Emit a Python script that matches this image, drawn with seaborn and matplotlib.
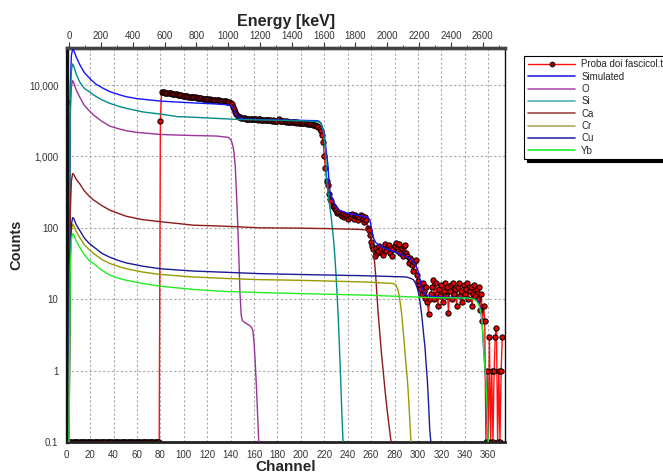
import numpy as np
import pandas as pd
import matplotlib
matplotlib.use("Agg")
import matplotlib.pyplot as plt
from matplotlib.lines import Line2D
from matplotlib.ticker import FixedLocator, MultipleLocator, FuncFormatter, LogLocator, NullFormatter
import seaborn as sns

# ---------------- data ----------------
# measured spectrum: counts per channel
meas_ch0 = list(range(0, 80))
meas_counts0 = [5800] + [0] * 79
meas_ch1 = list(range(80, 373))
meas_counts1 = [
    3150, 8050, 7950, 7900, 7850, 7800, 7800, 7700, 7720, 7650,
    7600, 7550, 7500, 7480, 7400, 7350, 7300, 7250, 7200, 7100,
    7080, 7050, 7000, 6950, 6900, 6850, 6850, 6800, 6750, 6700,
    6700, 6650, 6600, 6600, 6550, 6500, 6450, 6450, 6400, 6400,
    6350, 6300, 6300, 6250, 6250, 6200, 6200, 6150, 6160, 6100,
    6100, 6050, 6000, 6000, 5950, 5900, 5900, 5850, 5830, 5720,
    5600, 5400, 5000, 4600, 4200, 3900, 3700, 3600, 3550, 3500,
    3450, 3420, 3400, 3380, 3380, 3350, 3350, 3330, 3330, 3300,
    3350, 3300, 3300, 3280, 3300, 3300, 3250, 3260, 3250, 3230,
    3250, 3200, 3220, 3200, 3200, 3180, 3200, 3180, 3150, 3170,
    3150, 3300, 3150, 3120, 3130, 3100, 3100, 3080, 3100, 3050,
    3050, 3030, 3050, 3000, 3020, 3000, 2980, 3000, 2970, 2950,
    2950, 2930, 2950, 2900, 2920, 2880, 2900, 2850, 2870, 2830,
    2800, 2800, 2750, 2700, 2650, 2550, 2450, 2300, 2000, 1600,
    1000, 680, 450, 400, 300, 256, 240, 200, 195, 185,
    175, 160, 165, 159, 150, 145, 155, 140, 150, 145,
    135, 150, 150, 140, 155, 135, 150, 145, 140, 130,
    141, 150, 145, 135, 122, 140, 130, 100, 93, 80,
    63, 55, 50, 40, 52, 45, 48, 55, 50, 45,
    42, 50, 60, 48, 55, 57, 45, 52, 40, 50,
    55, 62, 50, 48, 60, 45, 52, 40, 55, 57,
    45, 40, 32, 38, 35, 30, 25, 33, 35, 22,
    18, 15.7, 14, 12, 17, 13, 10.5, 15, 9, 6.3,
    10, 12, 15, 18.4, 10, 17, 12, 8, 14, 11,
    16, 9, 13, 17, 11, 15, 6.5, 13, 16, 10,
    17, 12, 14, 8, 15, 17, 11, 13, 9, 16,
    12, 14, 17, 10, 13, 15, 8, 12, 16, 11,
    14, 10, 15, 7, 12, 5, 8, 5, 0, 1,
    0, 3, 0, 1, 0, 1, 3, 4, 0, 1,
    0, 1, 3,
]

sim_ch = [2, 3, 4, 5, 6, 8, 11, 15, 20, 25, 30, 37, 45, 51, 60, 70, 80, 95, 110, 125,
          135, 139, 141, 142, 144, 146, 148, 151, 160, 185, 200, 212, 215, 217, 218, 219,
          220, 221, 222, 223, 224, 225, 227, 230, 233, 240, 248, 256, 258, 259, 260, 261,
          262, 264, 267, 273, 280, 287, 292, 296, 298, 300, 301, 302, 303, 305, 307, 310,
          320, 341, 350, 352, 354, 355, 356, 357, 358, 359, 360]
sim_counts = [0, 9000, 26000, 31500, 30500, 25000, 19500, 15000, 12200, 10300, 9200, 8060,
              7300, 6850, 6450, 6200, 5960, 5770, 5600, 5450, 5330, 5240, 5000, 4710, 4100,
              3650, 3450, 3340, 3300, 3230, 3200, 3170, 3140, 2950, 2700, 2350, 2000, 1500,
              1050, 780, 450, 300, 250, 200, 176, 160, 151, 141, 135, 128, 105, 85, 72, 62,
              56, 51, 46, 41.6, 38, 33.5, 30, 25, 21, 18, 15, 12.5, 11.4, 11, 10.7, 10.5,
              9.8, 9, 6.3, 4, 2.1, 1.2, 0.7, 0.3, 0]

o_ch = [2, 3, 4, 5, 6, 8, 11, 15, 19, 23, 30, 37, 45, 51, 60, 70, 80, 95, 110, 128, 138,
        140, 141, 142, 143, 144, 145, 146, 147, 148, 149, 150, 153, 156, 158, 159, 160,
        161, 162, 163, 164]
o_counts = [0, 3500, 9500, 11500, 10800, 8600, 6850, 5200, 4400, 3800, 3100, 2650, 2420,
            2290, 2170, 2100, 2030, 1990, 1960, 1930, 1850, 1720, 1600, 1380, 1100, 700,
            300, 120, 40, 12, 6, 5, 4.6, 4.3, 4.0, 3.6, 2.5, 1.3, 0.6, 0.25, 0]

si_ch = [2, 3, 4, 5, 6, 8, 11, 15, 20, 23, 30, 37, 45, 51, 60, 65, 80, 95, 100, 128, 146,
         160, 185, 200, 212, 215, 217, 218, 219, 220, 221, 222, 223, 224, 225, 226, 227,
         228, 229, 230, 231, 232, 233, 234, 235, 236]
si_counts = [0, 6000, 16000, 19700, 18500, 14500, 11100, 9000, 7900, 7240, 6200, 5530,
             5000, 4710, 4380, 4200, 3920, 3600, 3590, 3410, 3300, 3260, 3200, 3150, 3100,
             3050, 2900, 2650, 2300, 1800, 1200, 500, 330, 240, 180, 135, 95, 65, 40, 22,
             11, 5, 2, 0.73, 0.25, 0]

ca_ch = [2, 3, 4, 5, 6, 8, 11, 15, 19, 23, 30, 37, 45, 51, 65, 80, 108, 137, 165, 199,
         230, 250, 256, 258, 259, 260, 261, 262, 263, 264, 265, 266, 267, 268, 269, 270,
         272, 274, 277]
ca_counts = [0, 150, 450, 575, 560, 480, 417, 330, 280, 245, 205, 176, 157, 145, 130, 122,
             109, 105, 100, 99, 97, 95, 93, 88, 83, 75, 60, 45, 32, 20, 11, 6.3, 4, 2.5,
             1.6, 1.1, 0.5, 0.25, 0]

cr_ch = [2, 3, 4, 5, 6, 8, 11, 15, 19, 23, 30, 37, 45, 51, 65, 80, 108, 137, 165, 199,
         256, 279, 281, 283, 284, 285, 286, 287, 288, 289, 290, 291, 292, 293, 294]
cr_counts = [0, 30, 90, 112, 108, 90, 73.6, 58, 50, 43.8, 36, 31.6, 28.5, 26.7, 24, 22.2,
             20.5, 19.5, 18.8, 18.4, 17.4, 16.6, 15.8, 13.4, 11, 8.5, 6.3, 4.2, 2.7, 1.7,
             1.1, 0.73, 0.4, 0.2, 0]

cu_ch = [2, 3, 4, 5, 6, 8, 11, 15, 19, 23, 30, 37, 45, 51, 65, 80, 108, 137, 165, 199,
         256, 290, 294, 296, 298, 300, 301, 302, 303, 304, 305, 306, 307, 308, 309, 310,
         311]
cu_counts = [0, 40, 110, 139, 135, 112, 92.7, 72, 61, 54, 44, 38.6, 34.5, 32.2, 29, 26.7,
             24.8, 23.8, 22.8, 22.2, 21.3, 20.5, 19.5, 18.8, 16.5, 13.4, 11, 8.5, 6.3, 4.4,
             3, 2.1, 1.2, 0.73, 0.35, 0.15, 0]

yb_ch = [2, 3, 4, 5, 6, 8, 11, 15, 19, 23, 30, 37, 45, 51, 65, 80, 108, 137, 165, 199,
         256, 313, 342, 348, 350, 352, 354, 355, 356, 357, 358, 359, 360]
yb_counts = [0, 25, 68, 83, 80, 66, 54, 42, 35, 31.6, 25.5, 21.7, 19.5, 18.4, 16.6, 15.2,
             13.7, 12.8, 12.4, 12.0, 11.4, 10.5, 10.4, 10, 9.4, 8.3, 6.3, 4, 2.1, 1.2,
             0.73, 0.3, 0]

energy_ticks = list(range(0, 2601, 200))
legend_labels = ["Proba doi fascicol.txt", "Simulated", "O", "Si", "Ca", "Cr", "Cu", "Yb"]

# ---------------- styling ----------------
sns.set_style("white")
plt.rcParams["font.family"] = ["Liberation Sans", "DejaVu Sans"]

YMIN, YMAX = 0.1, 32700
colors = {
    "Simulated": "#1414FF",
    "O": "#993399",
    "Si": "#008B8B",
    "Ca": "#8B1A1A",
    "Cr": "#999900",
    "Cu": "#1A1A99",
    "Yb": "#22EE22",
}
legend_colors = {
    "Simulated": "#2828D8",
    "O": "#B050B0",
    "Si": "#50B0B0",
    "Ca": "#A04848",
    "Cr": "#B0A860",
    "Cu": "#3030A8",
    "Yb": "#22EE22",
}

fig = plt.figure(figsize=(6.63, 4.74), dpi=100)
ax = fig.add_axes([66.7 / 663, 1 - 442 / 474, (505 - 66.7) / 663, (442 - 48.3) / 474])

# measured data
meas = pd.DataFrame({
    "channel": meas_ch0 + meas_ch1,
    "counts": meas_counts0 + meas_counts1,
})
meas["plot"] = meas["counts"].clip(lower=YMIN)
sns.lineplot(data=meas, x="channel", y="plot", ax=ax, estimator=None, sort=False,
             color="#FF1010", lw=1.0, marker="o", markersize=3.8,
             markerfacecolor="#E00000", markeredgecolor="black", markeredgewidth=0.7,
             legend=False, zorder=2)

series = [
    ("Simulated", sim_ch, sim_counts),
    ("O", o_ch, o_counts),
    ("Si", si_ch, si_counts),
    ("Ca", ca_ch, ca_counts),
    ("Cr", cr_ch, cr_counts),
    ("Cu", cu_ch, cu_counts),
    ("Yb", yb_ch, yb_counts),
]
for name, chs, cts in series:
    d = pd.DataFrame({"channel": chs, "counts": cts})
    d["plot"] = d["counts"].clip(lower=YMIN)
    sns.lineplot(data=d, x="channel", y="plot", ax=ax, estimator=None, sort=False,
                 color=colors[name], lw=1.0, legend=False, zorder=3)

ax.set_yscale("log")
ax.set_ylim(YMIN, YMAX)
ax.set_xlim(0, 374.3)

# ticks
ax.xaxis.set_major_locator(MultipleLocator(20))
ax.xaxis.set_minor_locator(MultipleLocator(5))
ax.yaxis.set_major_locator(LogLocator(base=10, numticks=20))
ax.yaxis.set_minor_locator(LogLocator(base=10, subs=np.arange(2, 10), numticks=20))
ax.yaxis.set_minor_formatter(NullFormatter())
ax.yaxis.set_major_formatter(FuncFormatter(lambda v, p: "0.1" if v < 1 else f"{v:,.0f}"))
ax.tick_params(axis="both", which="major", direction="out", length=4, width=0.8,
               color="#333333", labelsize=7, labelcolor="#333333", pad=2)
ax.tick_params(axis="both", which="minor", direction="out", length=2, width=0.6,
               color="#333333")

ax.grid(True, which="major", color="#AAAAAA", linestyle=(0, (2, 2)), linewidth=0.8)
ax.set_axisbelow(True)

for side, lw, c in [("left", 2.4, "#111111"), ("bottom", 2.0, "#222222"),
                    ("top", 2.4, "#444444"), ("right", 1.0, "#111111")]:
    ax.spines[side].set_visible(True)
    ax.spines[side].set_linewidth(lw)
    ax.spines[side].set_color(c)

ax.set_xlabel("Channel", fontsize=11, fontweight="bold", labelpad=0)
ax.set_ylabel("Counts", fontsize=10.5, fontweight="bold", labelpad=4)

# top energy axis
secax = ax.secondary_xaxis("top", functions=(lambda c: 7.365 * (np.asarray(c) - 2.2),
                                             lambda e: np.asarray(e) / 7.365 + 2.2))
secax.xaxis.set_major_locator(FixedLocator(energy_ticks))
secax.xaxis.set_minor_locator(MultipleLocator(100))
secax.tick_params(axis="x", which="major", direction="out", length=4, width=0.8,
                  color="#333333", labelsize=7, labelcolor="#333333", pad=1)
secax.tick_params(axis="x", which="minor", direction="out", length=2, width=0.6,
                  color="#333333")
secax.spines["top"].set_linewidth(2.4)
secax.spines["top"].set_color("#444444")
secax.set_xlabel("Energy [keV]", fontsize=11.5, fontweight="bold", labelpad=4)

# legend
handles = [Line2D([], [], color="#FF1010", lw=1.0, marker="o", markersize=3.5,
                  markerfacecolor="#990000", markeredgecolor="black", markeredgewidth=0.6)]
for name in ["Simulated", "O", "Si", "Ca", "Cr", "Cu", "Yb"]:
    handles.append(Line2D([], [], color=legend_colors[name], lw=1.2))
leg = fig.legend(handles, legend_labels, loc="upper left",
                 bbox_to_anchor=(524.3 / 663, 1 - 56 / 474), bbox_transform=fig.transFigure,
                 fontsize=7, frameon=True, fancybox=False, edgecolor="black",
                 framealpha=1, borderpad=0.35, labelspacing=0.24, handlelength=4.9,
                 handletextpad=0.6, borderaxespad=0,
                 shadow={"color": "black", "alpha": 1.0})
leg.get_frame().set_linewidth(0.8)

fig.savefig("out.png", dpi=100)
